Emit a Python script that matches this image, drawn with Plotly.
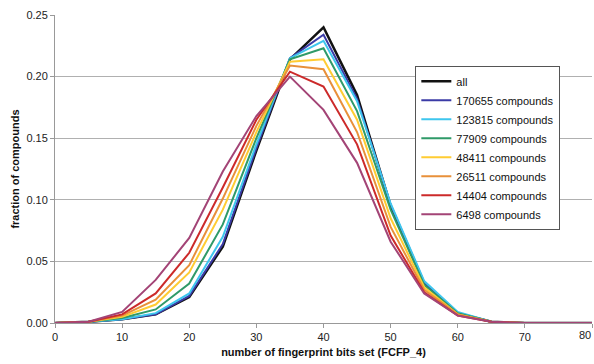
import plotly.graph_objects as go

bits = [0, 5, 10, 15, 20, 25, 30, 35, 40, 45, 50, 55, 60, 65, 70, 75, 80]

names = ["all", "170655 compounds", "123815 compounds", "77909 compounds",
         "48411 compounds", "26511 compounds", "14404 compounds", "6498 compounds"]
colors = ["#111111", "#3b3ba6", "#3ec6ee", "#2f9a68", "#ffcc33", "#e8903a", "#cc2a2a", "#a34476"]

all_v    = [0, 0.001, 0.003, 0.007, 0.021, 0.062, 0.140, 0.214, 0.240, 0.185, 0.095, 0.032, 0.008, 0.001, 0, 0, 0]
s170655  = [0, 0.001, 0.003, 0.007, 0.022, 0.064, 0.142, 0.215, 0.234, 0.182, 0.096, 0.033, 0.008, 0.001, 0, 0, 0]
s123815  = [0, 0.001, 0.003, 0.008, 0.024, 0.070, 0.145, 0.215, 0.229, 0.180, 0.097, 0.034, 0.009, 0.001, 0, 0, 0]
s77909   = [0, 0.001, 0.004, 0.011, 0.032, 0.080, 0.150, 0.214, 0.223, 0.172, 0.092, 0.031, 0.008, 0.001, 0, 0, 0]
s48411   = [0, 0.001, 0.005, 0.015, 0.041, 0.092, 0.155, 0.212, 0.214, 0.165, 0.085, 0.029, 0.007, 0.001, 0, 0, 0]
s26511   = [0, 0.001, 0.006, 0.019, 0.047, 0.101, 0.160, 0.209, 0.206, 0.155, 0.078, 0.027, 0.007, 0.001, 0, 0, 0]
s14404   = [0, 0.001, 0.007, 0.024, 0.057, 0.110, 0.165, 0.204, 0.192, 0.145, 0.071, 0.025, 0.006, 0.001, 0, 0, 0]
s6498    = [0, 0.001, 0.009, 0.035, 0.069, 0.123, 0.168, 0.200, 0.173, 0.130, 0.066, 0.024, 0.006, 0.001, 0, 0, 0]

series = [all_v, s170655, s123815, s77909, s48411, s26511, s14404, s6498]
x_ticks = list(range(0, 81, 10))

fig = go.Figure()
for name, col, vals in zip(names, colors, series):
    fig.add_trace(go.Scatter(x=bits, y=vals, mode="lines", name=name,
                             line=dict(color=col, width=2.5 if name == "all" else 2)))

fig.update_layout(
    width=594, height=364,
    margin=dict(l=55, r=2, t=15, b=41),
    paper_bgcolor="white", plot_bgcolor="white",
    font=dict(family="Liberation Sans, Arial, sans-serif", size=11, color="#222"),
    showlegend=True,
    legend=dict(x=0.671, y=0.835, xanchor="left", yanchor="top",
                bgcolor="white", bordercolor="#555", borderwidth=1,
                font=dict(size=11, color="#111"), tracegroupgap=0,
                itemwidth=30),
)
# last tick label at the right edge, kept inside the page
fig.add_annotation(x=x_ticks[-1], y=0, xref="x", yref="paper", text=str(x_ticks[-1]),
                   showarrow=False, yanchor="top", xanchor="right", yshift=-4, xshift=1,
                   font=dict(size=11, color="#222"))
fig.update_xaxes(range=[0, 80], tickvals=x_ticks,
                 showline=True, linecolor="#999", linewidth=1,
                 ticks="outside", ticklen=4, tickcolor="#999",
                 showgrid=False, zeroline=False,
                 title=dict(text="<b>number of fingerprint bits set (FCFP_4)</b>", standoff=6,
                            font=dict(size=11, color="#111")))
fig.update_yaxes(range=[0, 0.25], tickvals=[0, 0.05, 0.10, 0.15, 0.20, 0.25],
                 tickformat=".2f",
                 showline=True, linecolor="#999", linewidth=1,
                 ticks="outside", ticklen=4, tickcolor="#999",
                 showgrid=True, gridcolor="#b0b0b0", gridwidth=1, zeroline=False,
                 title=dict(text="<b>fraction of compounds</b>", standoff=4,
                            font=dict(size=11, color="#111")))

fig.write_html("out.html")
